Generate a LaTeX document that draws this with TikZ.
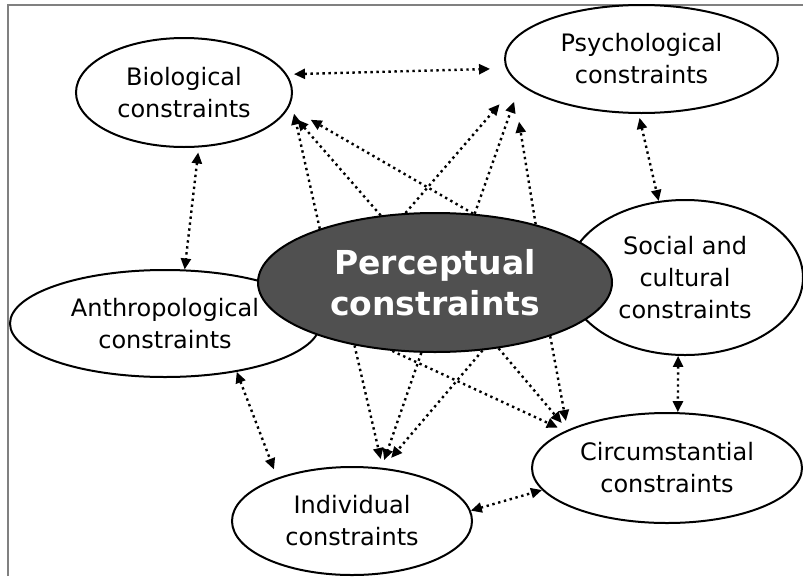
\documentclass[tikz,border=0pt]{standalone}
\usepackage{fontspec}
\setmainfont{DejaVu Sans}
\usetikzlibrary{shapes.geometric,arrows.meta}
\definecolor{coreGray}{RGB}{80,80,80}
\definecolor{frameGray}{RGB}{128,128,128}
\begin{document}
\begin{tikzpicture}[x=1pt,y=-1pt,
  frameline/.style={draw=frameGray, line width=1.6pt},
  constraint/.style={ellipse, draw=black, line width=2pt, fill=white, inner sep=0pt,
    align=center, font=\fontsize{24}{32}\selectfont},
  core/.style={ellipse, draw=black, line width=2pt, fill=coreGray, inner sep=0pt,
    align=center, text=white, font=\bfseries\fontsize{33}{41}\selectfont},
  dots/.style={line width=2.4pt, dash pattern=on 2.4pt off 3.6pt},
  link/.style={dots, -{Triangle[length=11pt,width=10pt]}},
  twoway/.style={dots, {Triangle[length=11pt,width=10pt]}-{Triangle[length=11pt,width=10pt]}},
]
\useasboundingbox (0,0) rectangle (803,576);
\fill[white] (0,0) rectangle (803,576);

% outer frame
\draw[frameline] (8,576) -- (8,5) -- (803,5);

% surrounding constraints
\node[constraint, minimum width=216pt, minimum height=109pt] (bio)    at (184,92.5)  {Biological\\constraints};
\node[constraint, minimum width=273pt, minimum height=108pt] (psych)  at (641.5,59)  {Psychological\\constraints};
\node[constraint, minimum width=310pt, minimum height=107pt] (anthro) at (165,323.5) {Anthropological\\constraints};
\node[constraint, minimum width=236pt, minimum height=155pt] (social) at (685,277.5) {Social and\\cultural\\constraints};
\node[constraint, minimum width=240pt, minimum height=108pt] (indiv)  at (352,521)   {Individual\\constraints};
\node[constraint, minimum width=270pt, minimum height=110pt] (circ)   at (667,468)   {Circumstantial\\constraints};

% central constraint, on top of its neighbours
\node[core, minimum width=354pt, minimum height=139pt] (perc) at (435,282.5) {Perceptual\\constraints};

% from the centre outwards
\draw[link, shorten >=12pt] (perc.155) -- (bio.-5);
\draw[link, shorten >=14pt] (perc.129) -- (bio.-9);
\draw[link, shorten >=25pt] (perc.61)  -- (bio.-8);

\draw[link, shorten >=28pt] (perc.113) -- (psych.-169);
\draw[link, shorten >=18pt] (perc.60)  -- (psych.-168);
\draw[link, shorten >=45pt] (perc.30)  -- (psych.-172);

\draw[link, shorten >=9pt]  (perc.-142) -- (indiv.60);
\draw[link, shorten >=8pt]  (perc.-101) -- (indiv.61);
\draw[link, shorten >=13pt] (perc.-55)  -- (indiv.60);

\draw[link, shorten >=8pt] (perc.-122) -- (circ.160);
\draw[link, shorten >=9pt] (perc.-46)  -- (circ.159);
\draw[link, shorten >=9pt] (perc.-25)  -- (circ.159);

% links between neighbours
\draw[twoway, shorten <=7pt, shorten >=16pt] (bio.10) -- (psych.-176);
\draw[twoway, shorten <=5pt] (bio.-75) -- (anthro.70);
\draw[twoway, shorten <=4pt] (psych.-93) -- (social.109);
\draw[twoway] (social.-95) -- (circ.79);
\draw[twoway, shorten >=9pt] (anthro.-34) -- (indiv.150);
\draw[twoway] (indiv.5) -- (circ.-170);
\end{tikzpicture}
\end{document}
